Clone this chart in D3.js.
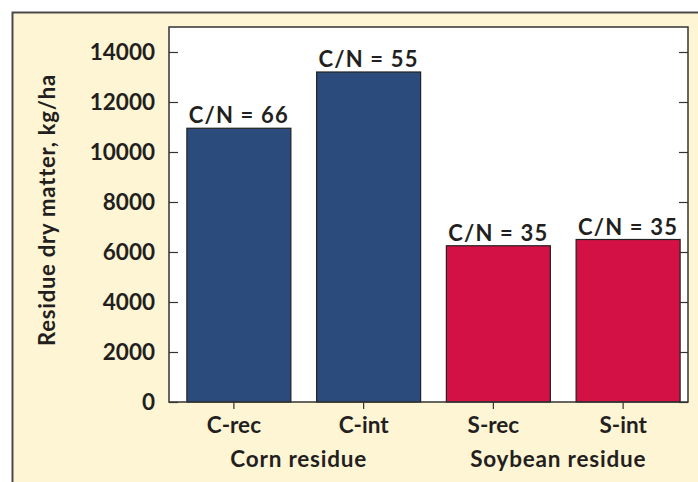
<!DOCTYPE html>
<html>
<head>
<meta charset="utf-8">
<script src="https://d3js.org/d3.v7.min.js"></script>
<style>
  body { margin: 0; background: #fff; }
  text { font-family: Lato, "Open Sans", sans-serif; font-weight: bold; fill: #231f20; }
</style>
</head>
<body>
<div id="chart"></div>
<script>
  // data
  var treatments = ["C-rec", "C-int", "S-rec", "S-int"];
  var residue = [10950, 13200, 6250, 6500];
  var cnLabels = ["C/N = 66", "C/N = 55", "C/N = 35", "C/N = 35"];
  var groups = ["Corn residue", "Soybean residue"];
  var groupOf = [0, 0, 1, 1];
  var yTicks = [0, 2000, 4000, 6000, 8000, 10000, 12000, 14000];

  var W = 698, H = 482;
  var plot = {left: 169, right: 688, top: 27, bottom: 402};
  var colors = ["#2a4b7c", "#2a4b7c", "#d31145", "#d31145"];

  var svg = d3.select("#chart").append("svg")
    .attr("width", W).attr("height", H);

  // cream panel with left/top border
  svg.append("rect").attr("x", 12).attr("y", 12)
    .attr("width", W).attr("height", H)
    .attr("fill", "#fef5d4");
  svg.append("path").attr("d", "M12.5," + H + "V12.5H" + W)
    .attr("stroke", "#4a4a4a").attr("stroke-width", 2).attr("fill", "none");

  svg.append("rect")
    .attr("x", plot.left).attr("y", plot.top)
    .attr("width", plot.right - plot.left).attr("height", plot.bottom - plot.top)
    .attr("fill", "#fff");

  var x = d3.scaleBand().domain(treatments).range([plot.left, plot.right]).padding(0);
  var y = d3.scaleLinear().domain([0, 15000]).range([plot.bottom, plot.top]);
  var barW = 104;

  svg.selectAll("rect.bar")
    .data(residue)
    .enter().append("rect")
    .attr("class", "bar")
    .attr("x", function(d, i) { return x(treatments[i]) + x.bandwidth() / 2 - barW / 2 + 5; })
    .attr("y", function(d) { return y(d); })
    .attr("width", barW)
    .attr("height", function(d) { return y(0) - y(d); })
    .attr("fill", function(d, i) { return colors[i]; })
    .attr("stroke", "#222").attr("stroke-width", 1.2);

  svg.selectAll("text.cn")
    .data(residue)
    .enter().append("text")
    .attr("class", "cn")
    .attr("x", function(d, i) { return x(treatments[i]) + x.bandwidth() / 2 + 5; })
    .attr("y", function(d) { return y(d) - 5; })
    .attr("text-anchor", "middle")
    .style("font-size", "22px")
    .style("letter-spacing", "1.2px")
    .text(function(d, i) { return cnLabels[i]; });

  // left axis, ticks pointing in
  var yAxis = svg.append("g")
    .attr("transform", "translate(" + plot.left + ",0)")
    .call(d3.axisRight(y).tickValues(yTicks).tickSize(9).tickFormat(""));
  yAxis.select(".domain").remove();
  yAxis.selectAll("line").attr("stroke", "#333").attr("stroke-width", 1.2);

  svg.selectAll("text.ytick")
    .data(yTicks)
    .enter().append("text")
    .attr("class", "ytick")
    .attr("x", plot.left - 14)
    .attr("y", function(d) { return y(d) + 8; })
    .attr("text-anchor", "end")
    .style("font-size", "22.5px")
    .text(function(d) { return d; });

  // right axis ticks
  var yAxisR = svg.append("g")
    .attr("transform", "translate(" + plot.right + ",0)")
    .call(d3.axisLeft(y).tickValues(yTicks).tickSize(9).tickFormat(""));
  yAxisR.select(".domain").remove();
  yAxisR.selectAll("line").attr("stroke", "#333").attr("stroke-width", 1.2);

  // bottom axis, ticks pointing out
  var xAxis = svg.append("g")
    .attr("transform", "translate(0," + plot.bottom + ")")
    .call(d3.axisBottom(x).tickSize(7).tickSizeOuter(0));
  xAxis.select(".domain").remove();
  xAxis.selectAll("line").attr("stroke", "#333").attr("stroke-width", 1.2);
  xAxis.selectAll("text")
    .attr("y", 31)
    .attr("dy", null)
    .style("font-size", "22.5px")
    .style("fill", "#231f20");

  // plot frame
  svg.append("rect")
    .attr("x", plot.left).attr("y", plot.top)
    .attr("width", plot.right - plot.left).attr("height", plot.bottom - plot.top)
    .attr("fill", "none").attr("stroke", "#333").attr("stroke-width", 1.5);

  // group labels
  svg.selectAll("text.group")
    .data(groups)
    .enter().append("text")
    .attr("class", "group")
    .attr("x", function(g, gi) {
      var idx = treatments.filter(function(t, i) { return groupOf[i] === gi; });
      return (x(idx[0]) + x(idx[idx.length - 1]) + x.bandwidth()) / 2;
    })
    .attr("y", 467)
    .attr("text-anchor", "middle")
    .style("font-size", "22.5px")
    .style("letter-spacing", "0.8px")
    .text(function(g) { return g; });

  svg.append("text")
    .attr("transform", "translate(55,210) rotate(-90)")
    .attr("text-anchor", "middle")
    .style("font-size", "22px")
    .style("letter-spacing", "0.8px")
    .text("Residue dry matter, kg/ha");
</script>
</body>
</html>
